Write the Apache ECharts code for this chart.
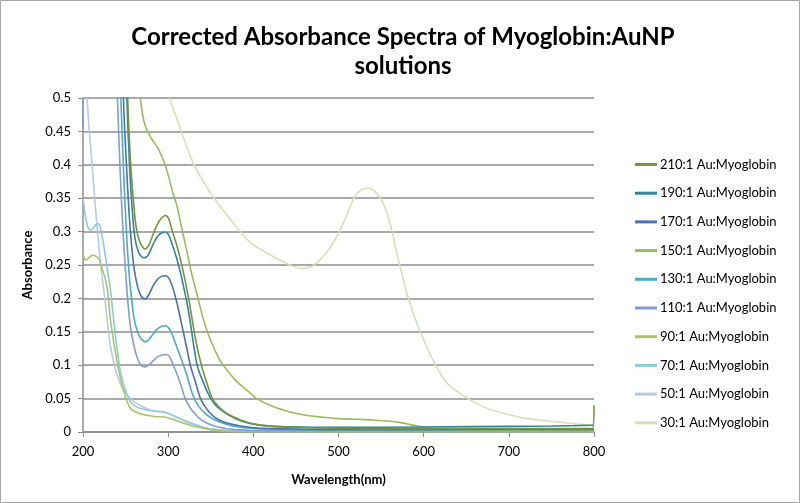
<!DOCTYPE html>
<html>
<head>
<meta charset="utf-8">
<script src="https://cdn.jsdelivr.net/npm/echarts@6/dist/echarts.min.js"></script>
<style>
	html, body { margin: 0; padding: 0; background: #fff; }
	#chart { width: 800px; height: 503px; }
</style>
</head>
<body>
<div id="chart"></div>
<script>
// values (wavelength in nm, absorbance)
const wl210 = [240, 250, 253, 256, 259, 262, 266, 270, 273, 277, 282, 287, 292, 297, 301, 305, 310, 316, 324, 332, 338, 345, 352, 360, 370, 385, 404, 430, 480, 550, 650, 750, 798, 800];
const abs210 = [0.9, 0.6, 0.48, 0.4, 0.35, 0.31, 0.287, 0.277, 0.274, 0.279, 0.295, 0.31, 0.32, 0.324, 0.318, 0.3, 0.28, 0.25, 0.2, 0.14, 0.105, 0.075, 0.05, 0.037, 0.027, 0.018, 0.011, 0.008, 0.006, 0.005, 0.005, 0.005, 0.005, 0.04];

const wl190 = [240, 249, 252, 255, 258, 261, 265, 269, 273, 277, 282, 287, 292, 297, 301, 305, 310, 316, 324, 334, 342, 350, 358, 370, 385, 404, 430, 480, 550, 650, 750, 800];
const abs190 = [0.9, 0.6, 0.48, 0.39, 0.33, 0.29, 0.27, 0.262, 0.261, 0.266, 0.28, 0.292, 0.298, 0.299, 0.294, 0.28, 0.26, 0.23, 0.18, 0.1, 0.072, 0.05, 0.037, 0.026, 0.017, 0.011, 0.008, 0.007, 0.007, 0.008, 0.009, 0.01];

const wl170 = [238, 245, 248, 251, 254, 257, 260, 264, 268, 273, 277, 282, 287, 292, 297, 301, 305, 310, 316, 322, 326, 332, 338, 345, 352, 360, 370, 385, 404, 430, 480, 550, 650, 750, 800];
const abs170 = [0.9, 0.6, 0.48, 0.4, 0.33, 0.28, 0.245, 0.218, 0.204, 0.199, 0.205, 0.218, 0.228, 0.233, 0.234, 0.23, 0.218, 0.195, 0.16, 0.125, 0.1, 0.075, 0.05, 0.035, 0.025, 0.018, 0.013, 0.009, 0.006, 0.005, 0.004, 0.004, 0.004, 0.004, 0.004];

const wl150 = [250, 266, 270, 274, 280, 288, 295, 300, 305, 310, 316, 322, 328, 334, 340, 346, 354, 362, 372, 381, 393, 404, 423, 443, 462, 482, 500, 522, 540, 561, 573, 585, 600, 615, 640, 700, 760, 800];
const abs150 = [1.0, 0.52, 0.475, 0.455, 0.44, 0.425, 0.405, 0.385, 0.36, 0.34, 0.305, 0.27, 0.235, 0.205, 0.175, 0.15, 0.125, 0.105, 0.088, 0.075, 0.062, 0.05, 0.038, 0.03, 0.025, 0.022, 0.02, 0.019, 0.018, 0.016, 0.014, 0.011, 0.007, 0.005, 0.004, 0.003, 0.003, 0.003];

const wl130 = [236, 242, 245, 248, 251, 254, 257, 260, 264, 268, 273, 277, 282, 287, 292, 297, 301, 305, 310, 318, 322, 329, 336, 345, 355, 370, 385, 404, 430, 480, 550, 650, 750, 800];
const abs130 = [0.9, 0.6, 0.48, 0.38, 0.3, 0.24, 0.2, 0.17, 0.15, 0.14, 0.135, 0.138, 0.146, 0.154, 0.158, 0.159, 0.155, 0.145, 0.128, 0.1, 0.085, 0.055, 0.038, 0.026, 0.018, 0.011, 0.007, 0.005, 0.004, 0.003, 0.003, 0.003, 0.003, 0.003];

const wl110 = [200, 202, 232, 238, 241, 244, 247, 250, 253, 256, 260, 264, 268, 273, 277, 282, 287, 292, 298, 302, 306, 310, 315, 320, 326, 333, 340, 350, 360, 375, 390, 410, 450, 500, 600, 700, 800];
const abs110 = [0.455, 0.6, 0.9, 0.6, 0.48, 0.38, 0.3, 0.24, 0.19, 0.155, 0.128, 0.11, 0.1, 0.0975, 0.1, 0.106, 0.112, 0.115, 0.116, 0.112, 0.1, 0.088, 0.07, 0.05, 0.036, 0.025, 0.017, 0.011, 0.007, 0.004, 0.003, 0.002, 0.002, 0.002, 0.002, 0.002, 0.002];

const wl90 = [200, 203, 206, 209, 212, 215, 218, 220, 223, 226, 229, 232, 236, 240, 244, 248, 252, 256, 262, 267, 275, 285, 295, 305, 314, 324, 334, 344, 354, 370, 400, 500, 600, 700, 800];
const abs90 = [0.267, 0.257, 0.26, 0.263, 0.265, 0.263, 0.26, 0.255, 0.242, 0.23, 0.21, 0.17, 0.135, 0.105, 0.08, 0.06, 0.045, 0.035, 0.03, 0.0275, 0.025, 0.023, 0.0225, 0.019, 0.015, 0.011, 0.0075, 0.005, 0.0025, 0.001, 0.0005, 0.0005, 0.0005, 0.0005, 0.0005];

const wl70 = [200, 202, 204, 206, 209, 212, 215, 218, 220, 223, 226, 229, 232, 235, 238, 241, 244, 248, 252, 256, 260, 266, 275, 285, 295, 305, 314, 324, 334, 344, 354, 370, 400, 500, 600, 700, 800];
const abs70 = [0.35, 0.33, 0.315, 0.306, 0.302, 0.305, 0.31, 0.312, 0.307, 0.29, 0.265, 0.24, 0.215, 0.18, 0.145, 0.115, 0.09, 0.07, 0.055, 0.045, 0.04, 0.036, 0.033, 0.031, 0.03, 0.025, 0.02, 0.014, 0.01, 0.006, 0.004, 0.002, 0.001, 0.001, 0.001, 0.001, 0.001];

const wl50 = [200, 203, 205, 210, 215, 220, 226, 232, 240, 248, 260, 275, 285, 295, 305, 314, 324, 334, 344, 354, 370, 400, 500, 600, 700, 800];
const abs50 = [0.9, 0.7, 0.5, 0.41, 0.33, 0.26, 0.195, 0.13, 0.085, 0.0625, 0.045, 0.035, 0.031, 0.03, 0.025, 0.02, 0.015, 0.01, 0.006, 0.004, 0.002, 0.001, 0.001, 0.001, 0.001, 0.001];

const wl30 = [280, 302, 310, 314, 329, 349, 369, 388, 400, 420, 440, 455, 465, 475, 487, 499, 510, 518, 526, 534, 541, 549, 555, 561, 570, 582, 596, 614, 628, 652, 675, 699, 714, 749, 780, 798];
const abs30 = [0.8, 0.5, 0.47, 0.455, 0.404, 0.359, 0.325, 0.295, 0.28, 0.265, 0.252, 0.245, 0.246, 0.254, 0.27, 0.295, 0.325, 0.35, 0.362, 0.365, 0.362, 0.35, 0.335, 0.31, 0.26, 0.2, 0.15, 0.1, 0.0725, 0.05, 0.035, 0.0265, 0.0215, 0.016, 0.012, 0.01];

const seriesNames = ['210:1 Au:Myoglobin', '190:1 Au:Myoglobin', '170:1 Au:Myoglobin', '150:1 Au:Myoglobin', '130:1 Au:Myoglobin',
	'110:1 Au:Myoglobin', '90:1 Au:Myoglobin', '70:1 Au:Myoglobin', '50:1 Au:Myoglobin', '30:1 Au:Myoglobin'];
const seriesWl = [wl210, wl190, wl170, wl150, wl130, wl110, wl90, wl70, wl50, wl30];
const seriesAbs = [abs210, abs190, abs170, abs150, abs130, abs110, abs90, abs70, abs50, abs30];
const colors = ['#76953a', '#31859c', '#4a72b0', '#9bbb59', '#4bacc6', '#7f9fd4', '#a9c46c', '#8ccbdc', '#b9c9e3', '#d2e1b9'];

const font = 'Lato, "Liberation Sans", sans-serif';

let myChart = echarts.init(document.getElementById('chart'));

let series = [];
for (let i = 0; i < seriesNames.length; i++) {
	let data = [];
	for (let j = 0; j < seriesWl[i].length; j++) {
		data.push([seriesWl[i][j], seriesAbs[i][j]]);
	}
	series.push({
		type: 'line',
		name: seriesNames[i],
		data: data,
		showSymbol: false,
		symbol: 'none',
		smooth: 0.3,
		clip: true,
		z: 10 - i,
		lineStyle: { color: colors[i], width: 1.6 },
		itemStyle: { color: colors[i] }
	});
}

let option = {
	animation: false,
	backgroundColor: '#fff',
	title: {
		text: 'Corrected Absorbance Spectra of Myoglobin:AuNP\nsolutions',
		left: 398,
		textAlign: 'center',
		top: 18,
		textStyle: { fontFamily: font, fontWeight: 'bold', fontSize: 24, color: '#000', lineHeight: 29 }
	},
	graphic: [{
		type: 'rect',
		shape: { x: 0.5, y: 0.5, width: 799, height: 502 },
		style: { fill: 'none', stroke: '#a6a6a6', lineWidth: 1 }
	}],
	legend: {
		orient: 'vertical',
		left: 630,
		top: 153,
		icon: 'rect',
		itemWidth: 22,
		itemHeight: 3,
		itemGap: 15.7,
		data: seriesNames,
		textStyle: { fontFamily: font, fontSize: 13, color: '#000', padding: [0, 0, 0, -2] }
	},
	grid: { left: 83, right: 206, top: 98, bottom: 71 },
	xAxis: {
		type: 'value',
		min: 200,
		max: 800,
		interval: 100,
		name: 'Wavelength(nm)',
		nameLocation: 'middle',
		nameGap: 41,
		nameTextStyle: { fontFamily: font, fontWeight: 'bold', fontSize: 13, color: '#000' },
		axisLine: { lineStyle: { color: '#8c8c8c', width: 1.5 } },
		axisTick: { show: true, length: 5, lineStyle: { color: '#8c8c8c' } },
		axisLabel: { fontFamily: font, fontSize: 13, color: '#000', margin: 13 },
		splitLine: { show: false }
	},
	yAxis: {
		type: 'value',
		min: 0,
		max: 0.5,
		interval: 0.05,
		name: 'Absorbance',
		nameLocation: 'middle',
		nameGap: 43,
		nameTextStyle: { fontFamily: font, fontWeight: 'bold', fontSize: 13, color: '#000' },
		axisLine: { show: true, lineStyle: { color: '#8c8c8c', width: 1.5 } },
		axisTick: { show: true, length: 5, lineStyle: { color: '#8c8c8c' } },
		axisLabel: { fontFamily: font, fontSize: 13, color: '#000', margin: 12 },
		splitLine: { show: true, lineStyle: { color: '#8c8c8c', width: 1.5 } }
	},
	series: series
};

myChart.setOption(option);
</script>
</body>
</html>
